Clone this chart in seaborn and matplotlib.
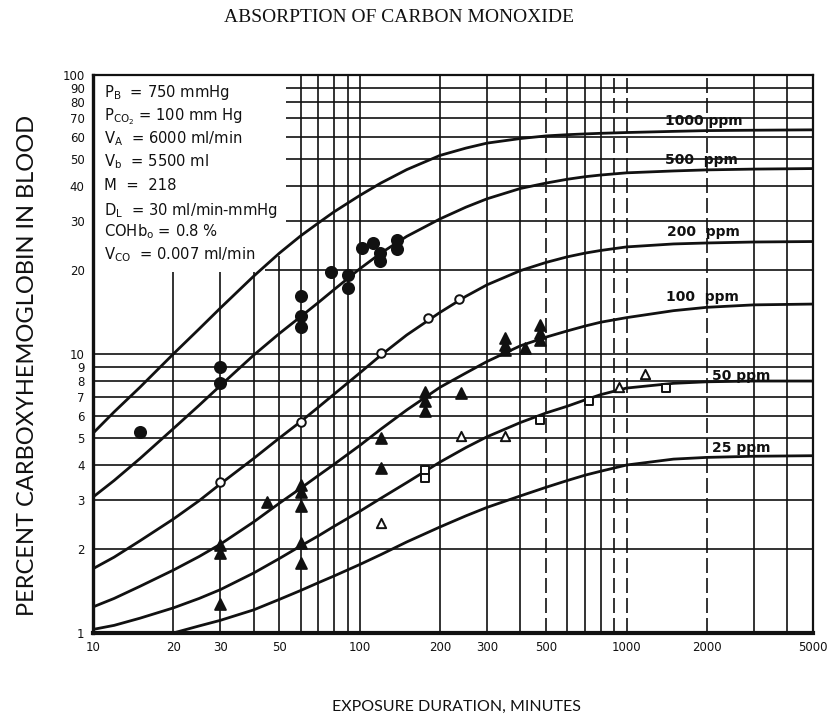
import matplotlib
matplotlib.use("Agg")
import matplotlib.pyplot as plt
import seaborn as sns
import pandas as pd
from matplotlib.ticker import FixedLocator, FixedFormatter, NullLocator
from matplotlib.patches import Polygon

# ---- curve data: percent COHb vs exposure minutes ----
minutes = [10, 12, 15, 20, 25, 30, 40, 50, 60, 70, 80, 100, 120, 150, 200, 250, 300,
           400, 500, 600, 700, 800, 1000, 1500, 2000, 3000, 5000]
cohb_1000 = [5.2, 6.2, 7.6, 10.0, 12.3, 14.6, 19.0, 23.0, 26.5, 29.5, 32.3, 37.0, 41.0, 45.8,
             51.5, 54.7, 57.0, 59.2, 60.5, 61.1, 61.5, 61.8, 62.2, 62.8, 63.2, 63.4, 63.6]
cohb_500 = [3.07, 3.52, 4.22, 5.4, 6.55, 7.7, 9.9, 11.85, 13.6, 15.3, 17.0, 20.2, 23.0, 26.4,
            30.5, 33.6, 36.0, 39.2, 41.0, 42.3, 43.2, 43.8, 44.6, 45.3, 45.7, 46.0, 46.2]
cohb_200 = [1.7, 1.87, 2.14, 2.56, 2.98, 3.42, 4.22, 5.0, 5.72, 6.45, 7.17, 8.55, 9.9, 11.7,
            14.1, 16.1, 17.7, 19.9, 21.3, 22.3, 23.0, 23.5, 24.2, 24.8, 25.0, 25.2, 25.3]
cohb_100 = [1.24, 1.33, 1.47, 1.68, 1.88, 2.08, 2.5, 2.92, 3.3, 3.67, 4.02, 4.7, 5.38, 6.3,
            7.6, 8.55, 9.4, 10.7, 11.5, 12.1, 12.6, 13.0, 13.5, 14.3, 14.7, 15.0, 15.1]
cohb_50 = [1.03, 1.065, 1.13, 1.23, 1.33, 1.43, 1.64, 1.85, 2.05, 2.23, 2.41, 2.73, 3.04, 3.46,
           4.1, 4.62, 5.05, 5.68, 6.15, 6.5, 6.85, 7.15, 7.55, 7.85, 7.95, 8.0, 8.0]
minutes_25 = [20, 25, 30, 40, 50, 60, 70, 80, 100, 120, 150, 200, 250, 300, 400, 500, 600,
              700, 800, 1000, 1500, 2000, 3000, 5000]
cohb_25 = [1.0, 1.06, 1.11, 1.21, 1.32, 1.42, 1.515, 1.6, 1.76, 1.91, 2.12, 2.4, 2.63, 2.82,
           3.1, 3.33, 3.52, 3.68, 3.8, 4.0, 4.2, 4.26, 4.3, 4.32]

curve_names = ["1000 ppm", "500 ppm", "200 ppm", "100 ppm", "50 ppm", "25 ppm"]
curve_labels = ["1000 ppm", "500  ppm", "200  ppm", "100  ppm", "50 ppm", "25 ppm"]

# ---- measured points ----
filled_circle_t = [15, 30, 30, 60, 60, 60, 78, 90, 90, 102, 112, 119, 119, 138, 138]
filled_circle_v = [5.25, 9.0, 7.85, 16.1, 13.7, 12.5, 19.7, 19.2, 17.2, 24.0, 25.0, 23.0, 21.5, 25.6, 23.8]
open_circle_t = [30, 60, 120, 180, 235]
open_circle_v = [3.48, 5.7, 10.1, 13.5, 15.7]
filled_tri_t = [30, 30, 30, 45, 60, 60, 60, 60, 60, 120, 120, 175, 175, 175, 240,
                350, 350, 350, 415, 475, 475, 475]
filled_tri_v = [2.07, 1.94, 1.27, 2.95, 3.4, 3.2, 2.85, 2.1, 1.78, 5.0, 3.9, 7.3, 6.8, 6.25, 7.25,
                11.4, 10.8, 10.3, 10.5, 12.7, 11.9, 11.2]
open_tri_t = [120, 240, 350, 940, 1170]
open_tri_v = [2.48, 5.1, 5.1, 7.6, 8.5]
open_sq_t = [175, 175, 475, 726, 1400]
open_sq_v = [3.85, 3.6, 5.8, 6.8, 7.55]

x_ticks = [10, 20, 30, 50, 100, 200, 300, 500, 1000, 2000, 5000]
y_ticks = [1, 2, 3, 4, 5, 6, 7, 8, 9, 10, 20, 30, 40, 50, 60, 70, 80, 90, 100]

parameters = [
    r"P$_\mathregular{B}$  = 750 mmHg",
    r"P$_\mathregular{CO_2}$ = 100 mm Hg",
    r"V$_\mathregular{A}$  = 6000 ml/min",
    r"V$_\mathregular{b}$  = 5500 ml",
    r"M  =  218",
    r"D$_\mathregular{L}$  = 30 ml/min-mmHg",
    r"COHb$_\mathregular{o}$ = 0.8 %",
    r"V$_\mathregular{CO}$  = 0.007 ml/min",
]

sns.set_style("white")
plt.rcParams["font.family"] = ["DejaVu Sans"]

fig = plt.figure(figsize=(8.35, 7.21), dpi=100)
ax = fig.add_axes([93 / 835, 88 / 721, 720 / 835, 558 / 721])
ax.set_xscale("log")
ax.set_yscale("log")
ax.set_xlim(10, 5000)
ax.set_ylim(1, 100)

ink = "#111111"

# log-paper rulings
x_grid_solid = [20, 30, 40, 50, 60, 70, 80, 90, 100, 200, 300, 400, 600, 700, 800, 3000, 4000]
x_grid_dashed = [500, 900, 1000, 2000]
y_grid = [2, 3, 4, 5, 6, 7, 8, 9, 10, 20, 30, 40, 50, 60, 70, 80, 90]
for xv in x_grid_solid:
    ax.axvline(xv, color=ink, lw=1.2, zorder=1)
for xv in x_grid_dashed:
    ax.axvline(xv, color=ink, lw=1.2, ls=(0, (9, 3)), zorder=1)
for yv in y_grid:
    ax.axhline(yv, color=ink, lw=1.2, zorder=1)

# blank panel holding the parameter list
panel = Polygon([(9.9, 19.6), (44, 19.6), (44, 22.5), (53, 22.5), (53, 101), (9.9, 101)],
                closed=True, facecolor="white", edgecolor="none", zorder=1.5,
                transform=ax.transData)
ax.add_patch(panel)

rows = []
for name, vals in zip(curve_names[:5], [cohb_1000, cohb_500, cohb_200, cohb_100, cohb_50]):
    for t, v in zip(minutes, vals):
        rows.append({"minutes": t, "cohb": v, "conc": name})
for t, v in zip(minutes_25, cohb_25):
    rows.append({"minutes": t, "cohb": v, "conc": "25 ppm"})
curves = pd.DataFrame(rows)

sns.lineplot(data=curves, x="minutes", y="cohb", hue="conc", hue_order=curve_names,
             palette=[ink] * 6, lw=2.0, legend=False, ax=ax, zorder=3, sort=True,
             solid_joinstyle="round", solid_capstyle="round")

pts = dict(ax=ax, zorder=4, legend=False, linewidth=1.4)
sns.scatterplot(x=filled_circle_t, y=filled_circle_v, marker="o", s=64,
                color=ink, edgecolor=ink, **pts)
sns.scatterplot(x=open_circle_t, y=open_circle_v, marker="o", s=38,
                facecolor="white", edgecolor=ink, **pts)
sns.scatterplot(x=filled_tri_t, y=filled_tri_v, marker="^", s=60,
                color=ink, edgecolor=ink, **pts)
sns.scatterplot(x=open_tri_t, y=open_tri_v, marker="^", s=45,
                facecolor="white", edgecolor=ink, **pts)
sns.scatterplot(x=open_sq_t, y=open_sq_v, marker="s", s=30,
                facecolor="white", edgecolor=ink, **pts)

# concentration labels along the plateaus
label_pos = [(1390, 68.4), (1390, 49.6), (1420, 27.4), (1400, 16.0), (2100, 8.34), (2100, 4.6)]
for (lx, ly), txt in zip(label_pos, curve_labels):
    ax.text(lx, ly, txt, fontsize=10, fontweight="bold", color=ink,
            ha="left", va="center", zorder=5)

# parameter list
y_rows = [93, 117, 139, 162, 186, 210, 232, 255]
for py, txt in zip(y_rows, parameters):
    ax.text(11 / 720, (633 - py) / 558, txt, transform=ax.transAxes,
            fontsize=10.6, color=ink, ha="left", va="center", zorder=5)

# axes, ticks, labels
ax.xaxis.set_major_locator(FixedLocator(x_ticks))
ax.xaxis.set_major_formatter(FixedFormatter([str(v) for v in x_ticks]))
ax.xaxis.set_minor_locator(NullLocator())
ax.yaxis.set_major_locator(FixedLocator(y_ticks))
ax.yaxis.set_major_formatter(FixedFormatter([str(v) for v in y_ticks]))
ax.yaxis.set_minor_locator(NullLocator())
ax.tick_params(axis="x", length=0, pad=6, labelsize=8.5, colors=ink)
ax.tick_params(axis="y", length=4, width=1.3, pad=2, labelsize=8.5, colors=ink, direction="out")

for side, lw in (("left", 2.4), ("bottom", 3.0), ("top", 1.6), ("right", 1.6)):
    ax.spines[side].set_visible(True)
    ax.spines[side].set_color(ink)
    ax.spines[side].set_linewidth(lw)

ax.set_xlabel("")
ax.set_ylabel("")
fig.text(456 / 835, 1 - 707 / 721, "EXPOSURE DURATION, MINUTES",
         family=["Lato", "DejaVu Sans"], fontsize=11.5, color=ink,
         ha="center", va="center")
fig.text(28 / 835, 1 - 365 / 721, "PERCENT CARBOXYHEMOGLOBIN IN BLOOD",
         family=["Lato", "DejaVu Sans"], fontsize=17, color=ink,
         ha="center", va="center", rotation=90)
fig.text(399 / 835, 1 - 18 / 721, "ABSORPTION OF CARBON MONOXIDE",
         family=["Liberation Serif", "DejaVu Serif"], fontsize=14, color=ink,
         ha="center", va="center")

fig.savefig("out.png", dpi=100, facecolor="white")
